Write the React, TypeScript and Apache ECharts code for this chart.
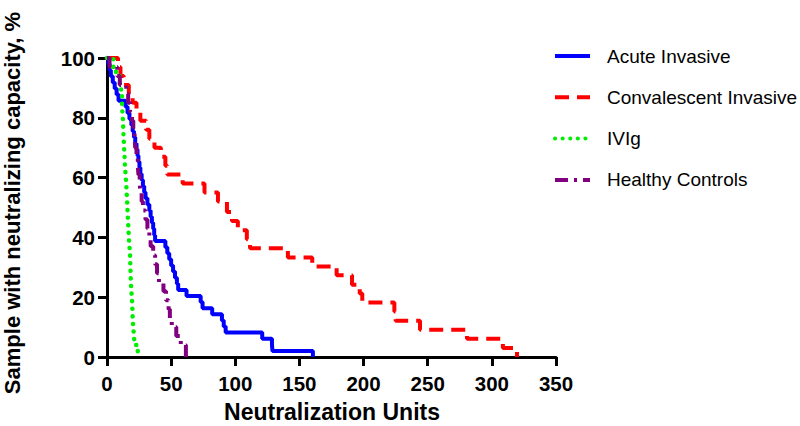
import React, { useEffect, useRef } from "react";
import * as echarts from "echarts";

const seriesNames = ["Acute Invasive", "Convalescent Invasive", "IVIg", "Healthy Controls"];

const acuteX = [0, 1, 2, 3, 4.5, 6, 7.5, 9, 14.5, 16, 17.5, 19, 20, 21, 22, 23, 23.8, 24.5, 25.3, 26, 27, 28, 29, 30, 31.5, 33, 34, 35, 36, 36.8, 37.5, 45.5, 47, 48.5, 50, 51.5, 53, 54.5, 55.5, 62, 73, 74.5, 82, 89.6, 91, 92.5, 121, 128.6, 129, 160.5];
const acuteY = [100, 98, 95.9, 93.9, 91.8, 89.8, 87.8, 85.7, 83.7, 81.6, 79.6, 77.6, 75.5, 73.5, 71.4, 69.4, 67.3, 65.3, 63.3, 61.2, 59.2, 57.1, 55.1, 53.1, 51, 49, 46.9, 44.9, 42.9, 40.8, 38.8, 36.7, 34.7, 32.7, 30.6, 28.6, 26.5, 24.5, 22.4, 20.4, 18.4, 16.3, 14.3, 12.2, 10.2, 8.2, 6.1, 4.1, 2.0, 0];

const convX = [0, 8.6, 10.5, 13, 17, 20, 23, 26, 30.5, 33, 37, 42, 45.5, 47, 59, 76, 86.5, 93.5, 97.4, 102, 109, 111.5, 141, 160, 179, 191, 197, 199, 224, 225, 244, 280.6, 308.6, 319.6];
const convY = [100, 97, 94, 91, 88, 85, 82, 79, 76, 73, 70, 67, 64, 61, 58, 55, 52, 48.5, 45.5, 42.4, 39.4, 36.4, 33.3, 30.3, 27.3, 24.2, 21.2, 18.2, 15.2, 12.1, 9.1, 6.1, 3.0, 0];

const ivigX = [0, 5, 7, 10, 11, 11.7, 12, 12.5, 12.7, 13, 13.3, 13.7, 14, 14.5, 15, 15.3, 15.7, 16, 16.3, 16.7, 17, 17.5, 18, 18.2, 18.4, 18.6, 19, 19.5, 19.8, 20, 20.5, 21, 21.5, 24];
const ivigY = [100, 97, 94, 91, 88, 85, 82, 79, 76, 73, 70, 67, 64, 61, 58, 55, 52, 49, 46, 43, 40, 37, 34, 31, 28, 25, 22, 19, 16, 13, 10, 7, 4, 0];

const healthyX = [0, 2, 8, 10, 15, 16.5, 18, 19.5, 20.5, 21.5, 22, 23, 24, 24.5, 25.5, 26, 27, 28, 30, 31.5, 33, 34, 36, 37.5, 39, 40.5, 44, 46, 48, 49, 50.5, 54, 57.5, 61.5];
const healthyY = [100, 97, 94, 91, 88, 85, 82, 79, 76, 73, 70, 67, 64, 61, 58, 55, 52, 49, 46, 43, 40, 37, 34, 31, 28, 25, 22, 19, 16, 13, 10, 7, 4, 0];

const xTicks = [0, 50, 100, 150, 200, 250, 300, 350];
const yTicks = [0, 20, 40, 60, 80, 100];

const zip = (xs: number[], ys: number[]) => xs.map((x, i) => [x, ys[i]]);

const FONT = "Arial, 'Liberation Sans', Helvetica, sans-serif";

export default function App() {
  const ref = useRef<HTMLDivElement>(null);
  useEffect(() => {
    const chart = echarts.init(ref.current!, null, { renderer: "svg" });
    const axisCommon = {
      type: "value",
      axisLine: { show: true, lineStyle: { color: "#000", width: 3 } },
      axisTick: { show: true, length: 9, lineStyle: { color: "#000", width: 3 } },
      splitLine: { show: false },
    };
    chart.setOption({
      animation: false,
      backgroundColor: "#fff",
      grid: { left: 107, top: 58, width: 449, height: 299, containLabel: false },
      xAxis: {
        ...axisCommon,
        min: xTicks[0],
        max: xTicks[xTicks.length - 1],
        interval: 50,
        axisLabel: { fontFamily: FONT, fontWeight: "bold", fontSize: 20.5, color: "#000", margin: 16 },
      },
      yAxis: {
        ...axisCommon,
        min: yTicks[0],
        max: yTicks[yTicks.length - 1],
        interval: 20,
        axisLabel: { fontFamily: FONT, fontWeight: "bold", fontSize: 20.5, color: "#000", margin: 12 },
      },
      legend: {
        orient: "vertical",
        left: 548,
        top: 41,
        itemWidth: 35,
        itemHeight: 14,
        itemGap: 21.3,
        data: seriesNames,
        itemStyle: { opacity: 0 },
        lineStyle: { width: 4 },
        textStyle: { fontFamily: FONT, fontSize: 19, color: "#000", lineHeight: 20, padding: [0, 0, 0, 12] },
      },
      graphic: [
        {
          type: "text",
          x: 332,
          y: 412,
          style: {
            text: "Neutralization Units",
            font: `bold 23px ${FONT}`,
            fill: "#000",
            textAlign: "center",
            textVerticalAlign: "middle",
          },
        },
        {
          type: "text",
          x: 12,
          y: 203,
          rotation: Math.PI / 2,
          style: {
            text: "Sample with neutralizing capacity, %",
            font: `bold 22px ${FONT}`,
            fill: "#000",
            textAlign: "center",
            textVerticalAlign: "middle",
          },
        },
      ],
      series: [
        {
          name: seriesNames[0],
          type: "line",
          step: "end",
          symbol: "none",
          clip: false,
          data: zip(acuteX, acuteY),
          itemStyle: { color: "#0000ff" },
          lineStyle: { color: "#0000ff", width: 4, type: "solid" },
        },
        {
          name: seriesNames[1],
          type: "line",
          step: "end",
          symbol: "none",
          clip: false,
          data: zip(convX, convY),
          itemStyle: { color: "#ff0000" },
          lineStyle: { color: "#ff0000", width: 4, type: [14, 8] },
        },
        {
          name: seriesNames[2],
          type: "line",
          step: "end",
          symbol: "none",
          clip: false,
          data: zip(ivigX, ivigY),
          itemStyle: { color: "#00ee00" },
          lineStyle: { color: "#00ee00", width: 4.5, type: [0.1, 7.5], cap: "round" },
        },
        {
          name: seriesNames[3],
          type: "line",
          step: "end",
          symbol: "none",
          clip: false,
          data: zip(healthyX, healthyY),
          itemStyle: { color: "#800080" },
          lineStyle: { color: "#800080", width: 4, type: [13, 6, 3, 6] },
        },
      ],
    });
    return () => chart.dispose();
  }, []);
  return <div ref={ref} style={{ position: "absolute", left: 0, top: 0, width: 800, height: 426 }} />;
}
